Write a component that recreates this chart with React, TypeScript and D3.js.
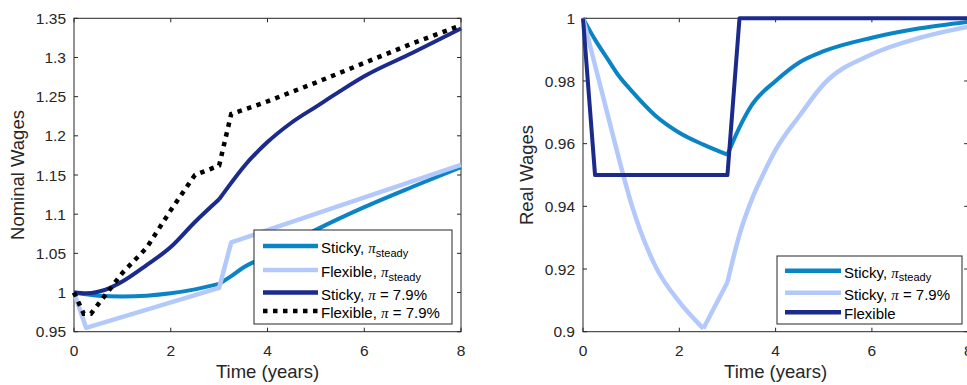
import * as d3 from 'd3';

// ---- left panel: nominal wages ----
const nomStickySteadyT = [0, 0.5, 1, 1.5, 2, 2.5, 3, 3.25, 3.5, 4, 4.5, 5, 6, 7, 8];
const nomStickySteadyV = [1.0, 0.996, 0.995, 0.996, 0.999, 1.004, 1.011, 1.021, 1.032, 1.047, 1.064, 1.08, 1.109, 1.135, 1.16];

const nomFlexSteadyT = [0, 0.25, 3, 3.25, 8];
const nomFlexSteadyV = [1.0, 0.955, 1.006, 1.064, 1.163];

const nomStickyHighT = [0, 0.25, 0.5, 0.75, 1, 1.5, 2, 2.5, 3, 3.25, 3.5, 4, 4.5, 5, 5.5, 6, 7, 8];
const nomStickyHighV = [1.0, 0.999, 1.001, 1.006, 1.014, 1.035, 1.058, 1.09, 1.119, 1.14, 1.16, 1.192, 1.217, 1.237, 1.257, 1.276, 1.306, 1.337];

const nomFlexHighT = [0, 0.2, 0.35, 1, 1.5, 2, 2.5, 3, 3.25, 3.5, 4, 5, 6, 7, 8];
const nomFlexHighV = [1.0, 0.973, 0.973, 1.025, 1.057, 1.105, 1.15, 1.162, 1.228, 1.233, 1.244, 1.268, 1.293, 1.318, 1.341];

const nomTicks = [0.95, 1, 1.05, 1.1, 1.15, 1.2, 1.25, 1.3, 1.35];
const nomTickLabels = ['0.95', '1', '1.05', '1.1', '1.15', '1.2', '1.25', '1.3', '1.35'];

// ---- right panel: real wages ----
const realStickySteadyT = [0, 0.25, 0.5, 0.75, 1, 1.5, 2, 2.5, 3, 3.25, 3.5, 4, 4.5, 5, 6, 7, 8];
const realStickySteadyV = [1.0, 0.9932, 0.9873, 0.9815, 0.977, 0.969, 0.9635, 0.9597, 0.9565, 0.9652, 0.9722, 0.98, 0.986, 0.9895, 0.9938, 0.9968, 0.9989];

const realStickyHighT = [0, 0.25, 0.5, 0.75, 1, 1.5, 2, 2.5, 3, 3.25, 3.5, 3.75, 4, 4.5, 5, 6, 7, 8];
const realStickyHighV = [1.0, 0.985, 0.97, 0.955, 0.941, 0.921, 0.9095, 0.901, 0.9158, 0.931, 0.942, 0.9505, 0.958, 0.969, 0.979, 0.9885, 0.9938, 0.9973];

const realFlexT = [0, 0.25, 3, 3.25, 8];
const realFlexV = [1.0, 0.95, 0.95, 1.0, 1.0];

const realTicks = [0.9, 0.92, 0.94, 0.96, 0.98, 1];
const realTickLabels = ['0.9', '0.92', '0.94', '0.96', '0.98', '1'];

const timeTicks = [0, 2, 4, 6, 8];

const C_MED = '#0b84c6';
const C_LIGHT = '#b4c9fb';
const C_NAVY = '#1b2b8c';
const INK = '#262626';
const FONT = '"Liberation Sans", Arial, Helvetica, sans-serif';

type Series = { t: number[]; v: number[]; color: string; dotted?: boolean; w: number; smooth?: boolean; breaks?: number[] };
type LegendItem = { color: string; dotted?: boolean; name: string; sub?: string; rest?: string };

// split a series at its corner points so each piece can be smoothed on its own
function pieces(s: Series): [number, number][][] {
  const pts = s.t.map((t, j) => [t, s.v[j]] as [number, number]);
  if (!s.breaks) return [pts];
  const out: [number, number][][] = [];
  let cur: [number, number][] = [];
  pts.forEach(p => {
    cur.push(p);
    if (s.breaks!.includes(p[0])) { out.push(cur); cur = [p]; }
  });
  if (cur.length > 1) out.push(cur);
  return out;
}

function Panel({ x0, x1, y0, y1, domain, yTicks, yLabels, yTitle, series, legend }: {
  x0: number; x1: number; y0: number; y1: number; domain: [number, number];
  yTicks: number[]; yLabels: string[]; yTitle: string; series: Series[];
  legend: { x: number; y: number; w: number; h: number; lineX0: number; lineX1: number; rows: number[]; items: LegendItem[] };
}) {
  const x = d3.scaleLinear().domain([0, 8]).range([x0, x1]);
  const y = d3.scaleLinear().domain(domain).range([y1, y0]);
  const straight = d3.line<[number, number]>().x(d => x(d[0])).y(d => y(d[1]));
  const curved = d3.line<[number, number]>().x(d => x(d[0])).y(d => y(d[1])).curve(d3.curveMonotoneX);
  const tk = 4;

  return (
    <g>
      <rect x={x0} y={y0} width={x1 - x0} height={y1 - y0} fill="white" stroke={INK} strokeWidth={1} />
      {timeTicks.map(t => (
        <g key={'xt' + t}>
          <line x1={x(t)} x2={x(t)} y1={y1} y2={y1 - tk} stroke={INK} />
          <line x1={x(t)} x2={x(t)} y1={y0} y2={y0 + tk} stroke={INK} />
          <text x={x(t)} y={y1 + 24} textAnchor="middle" fontSize={15.5} fill={INK}>{t}</text>
        </g>
      ))}
      {yTicks.map((v, i) => (
        <g key={'yt' + v}>
          <line x1={x0} x2={x0 + tk} y1={y(v)} y2={y(v)} stroke={INK} />
          <line x1={x1} x2={x1 - tk} y1={y(v)} y2={y(v)} stroke={INK} />
          <text x={x0 - 8} y={y(v)} dy="0.36em" textAnchor="end" fontSize={15.5} fill={INK}>{yLabels[i]}</text>
        </g>
      ))}
      <text x={(x0 + x1) / 2} y={378} textAnchor="middle" fontSize={18.5} fill={INK}>Time (years)</text>
      <text transform={`translate(${x0 - 50},${(y0 + y1) / 2}) rotate(-90)`} textAnchor="middle" fontSize={18.5} fill={INK}>{yTitle}</text>

      {series.map((s, i) => {
        const gen = s.smooth ? curved : straight;
        const d = pieces(s).map(p => gen(p)).join('');
        return (
          <path key={i} d={d} fill="none" stroke={s.color}
            strokeWidth={s.w} strokeDasharray={s.dotted ? '4.5 5.5' : undefined}
            strokeLinejoin={s.dotted ? 'miter' : 'round'} />
        );
      })}

      <rect x={legend.x} y={legend.y} width={legend.w} height={legend.h} fill="white" stroke={INK} strokeWidth={1} />
      {legend.items.map((it, i) => {
        const ry = legend.rows[i];
        return (
          <g key={'lg' + i}>
            <line x1={legend.lineX0} x2={legend.lineX1} y1={ry} y2={ry} stroke={it.color}
              strokeWidth={4.5} strokeDasharray={it.dotted ? '4.5 5.5' : undefined} />
            <text x={legend.lineX1 + 3} y={ry + 7} fontSize={15} fill="#000">
              {it.name}
              {it.sub !== undefined || it.rest !== undefined ? (
                <tspan fontFamily='"Liberation Serif", "Times New Roman", serif' fontStyle="italic" fontSize={15}>π</tspan>
              ) : null}
              {it.sub ? <tspan dy={3.5} fontSize={11}>{it.sub}</tspan> : null}
              {it.rest ? <tspan>{it.rest}</tspan> : null}
            </text>
          </g>
        );
      })}
    </g>
  );
}

export default function App() {
  const yTop = 18.3;
  const yBot = 331.7;
  return (
    <svg width={967} height={385} style={{ position: 'absolute', left: 0, top: 0, fontFamily: FONT }}>
      <rect width={967} height={385} fill="white" />
      <Panel
        x0={74} x1={461} y0={yTop} y1={yBot} domain={[0.95, 1.35]}
        yTicks={nomTicks} yLabels={nomTickLabels} yTitle="Nominal Wages"
        series={[
          { t: nomStickySteadyT, v: nomStickySteadyV, color: C_MED, w: 4, smooth: true, breaks: [3] },
          { t: nomFlexSteadyT, v: nomFlexSteadyV, color: C_LIGHT, w: 4.5 },
          { t: nomStickyHighT, v: nomStickyHighV, color: C_NAVY, w: 4, smooth: true, breaks: [3] },
          { t: nomFlexHighT, v: nomFlexHighV, color: '#000', w: 4.5, dotted: true },
        ]}
        legend={{
          x: 254, y: 230, w: 198, h: 94, lineX0: 263, lineX1: 318,
          rows: [246, 270, 292.5, 311],
          items: [
            { color: C_MED, name: 'Sticky, ', sub: 'steady' },
            { color: C_LIGHT, name: 'Flexible, ', sub: 'steady' },
            { color: C_NAVY, name: 'Sticky, ', rest: ' = 7.9%' },
            { color: '#000', dotted: true, name: 'Flexible, ', rest: ' = 7.9%' },
          ],
        }}
      />
      <Panel
        x0={583} x1={968.2} y0={yTop} y1={yBot} domain={[0.9, 1]}
        yTicks={realTicks} yLabels={realTickLabels} yTitle="Real Wages"
        series={[
          { t: realStickySteadyT, v: realStickySteadyV, color: C_MED, w: 4, smooth: true, breaks: [3] },
          { t: realStickyHighT, v: realStickyHighV, color: C_LIGHT, w: 4.5, smooth: true, breaks: [2.5, 3] },
          { t: realFlexT, v: realFlexV, color: C_NAVY, w: 4 },
        ]}
        legend={{
          x: 777, y: 256, w: 185, h: 68, lineX0: 785, lineX1: 841,
          rows: [270.7, 292.7, 312.3],
          items: [
            { color: C_MED, name: 'Sticky, ', sub: 'steady' },
            { color: C_LIGHT, name: 'Sticky, ', rest: ' = 7.9%' },
            { color: C_NAVY, name: 'Flexible' },
          ],
        }}
      />
    </svg>
  );
}
